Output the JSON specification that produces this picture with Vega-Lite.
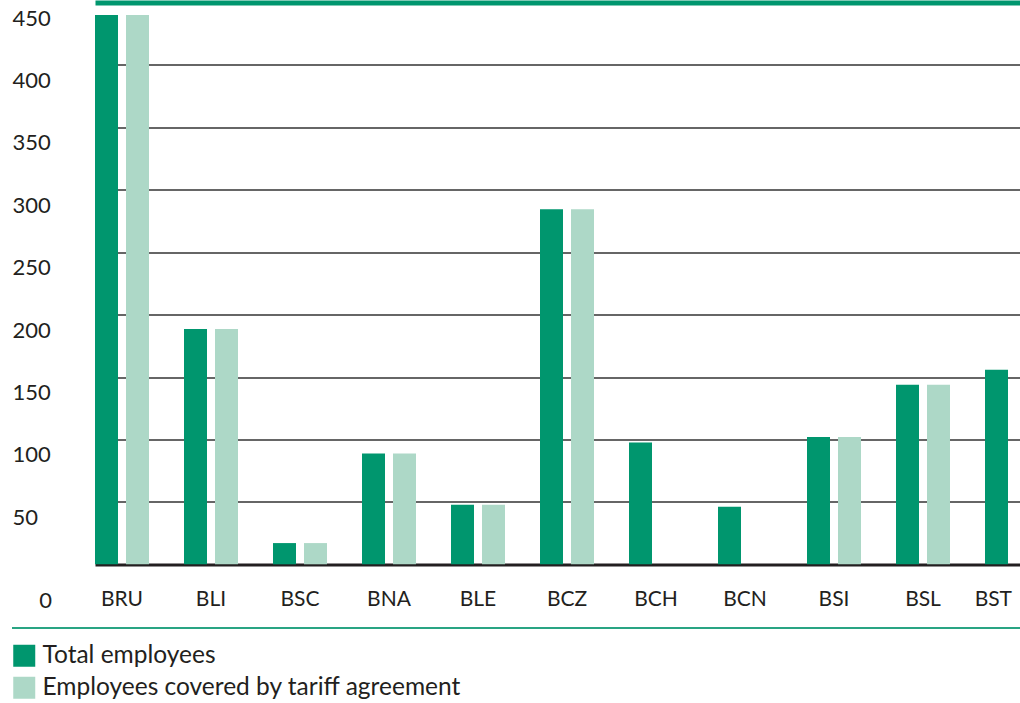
{
  "$schema": "https://vega.github.io/schema/vega-lite/v6.json",
  "width": 1008,
  "height": 561.8,
  "autosize": "none",
  "padding": {"left": 12, "top": 2.5, "right": 0, "bottom": 138.7},
  "background": "white",
  "config": {
    "view": {"stroke": null},
    "font": "Lato",
    "text": {"font": "Lato"}
  },
  "data": {
    "values": [
      {"unit": "BRU", "series": "Total employees", "value": 440},
      {"unit": "BRU", "series": "Employees covered by tariff agreement", "value": 440},
      {"unit": "BLI", "series": "Total employees", "value": 188.5},
      {"unit": "BLI", "series": "Employees covered by tariff agreement", "value": 188.5},
      {"unit": "BSC", "series": "Total employees", "value": 17},
      {"unit": "BSC", "series": "Employees covered by tariff agreement", "value": 17},
      {"unit": "BNA", "series": "Total employees", "value": 88.7},
      {"unit": "BNA", "series": "Employees covered by tariff agreement", "value": 88.7},
      {"unit": "BLE", "series": "Total employees", "value": 47.6},
      {"unit": "BLE", "series": "Employees covered by tariff agreement", "value": 47.6},
      {"unit": "BCZ", "series": "Total employees", "value": 284.4},
      {"unit": "BCZ", "series": "Employees covered by tariff agreement", "value": 284.4},
      {"unit": "BCH", "series": "Total employees", "value": 97.6},
      {"unit": "BCN", "series": "Total employees", "value": 46},
      {"unit": "BSI", "series": "Total employees", "value": 102},
      {"unit": "BSI", "series": "Employees covered by tariff agreement", "value": 102},
      {"unit": "BSL", "series": "Total employees", "value": 143.8},
      {"unit": "BSL", "series": "Employees covered by tariff agreement", "value": 143.8},
      {"unit": "BST", "series": "Total employees", "value": 155.9}
    ]
  },
  "layer": [
    {
      "mark": {"type": "bar"},
      "encoding": {
        "x": {
          "field": "unit",
          "type": "nominal",
          "sort": ["BRU", "BLI", "BSC", "BNA", "BLE", "BCZ", "BCH", "BCN", "BSI", "BSL", "BST"],
          "scale": {"range": [83, 1027], "paddingInner": 0.3933, "paddingOuter": 0},
          "axis": {
            "title": null,
            "domain": false,
            "ticks": false,
            "tickSize": 0,
            "grid": false,
            "labelPadding": 35.5,
            "labelBaseline": "middle",
            "labelAngle": 0,
            "labelAlign": {"condition": {"test": "datum.value == 'BST'", "value": "right"}, "value": "center"},
            "labelFont": "Lato",
            "labelFontSize": 21,
            "labelColor": "#231F20",
            "labelOverlap": false,
            "labelBound": false,
            "labelFlush": false
          }
        },
        "xOffset": {
          "field": "series",
          "type": "nominal",
          "sort": ["Total employees", "Employees covered by tariff agreement"],
          "scale": {"paddingInner": 0.258, "paddingOuter": 0}
        },
        "y": {
          "field": "value",
          "type": "quantitative",
          "scale": {"domain": [0, 450], "nice": false, "zero": true},
          "axis": {
            "title": null,
            "values": [0, 50, 100, 150, 200, 250, 300, 350, 400, 450],
            "domain": false,
            "ticks": false,
            "tickSize": 0,
            "grid": true,
            "gridColor": {"condition": [{"test": "datum.value == 450", "value": "#00966E"}, {"test": "datum.value == 0", "value": "#231F20"}], "value": "#333333"},
            "gridWidth": {"condition": [{"test": "datum.value == 450", "value": 5}, {"test": "datum.value == 0", "value": 3.2}], "value": 1.3},
            "labelAlign": {"condition": {"test": "datum.value == 0", "value": "center"}, "value": "left"},
            "labelPadding": {"condition": {"test": "datum.value == 0", "value": -33}, "value": 0},
            "labelOffset": {"condition": {"test": "datum.value == 0", "value": 36}, "value": 15.5},
            "labelBaseline": "middle",
            "labelFont": "Lato",
            "labelFontSize": 22,
            "labelColor": "#231F20",
            "labelOverlap": false,
            "labelBound": false,
            "labelFlush": false
          }
        },
        "color": {
          "field": "series",
          "type": "nominal",
          "scale": {
            "domain": ["Total employees", "Employees covered by tariff agreement"],
            "range": ["#00966E", "#ADD8C7"]
          },
          "legend": {
            "title": null,
            "orient": "none",
            "legendX": 0,
            "legendY": 641,
            "direction": "vertical",
            "symbolType": "square",
            "symbolSize": 484,
            "symbolStrokeWidth": 0,
            "symbolOpacity": 1,
            "labelFont": "Lato",
            "labelFontSize": 24.5,
            "labelColor": "#231F20",
            "rowPadding": 7,
            "labelOffset": 6,
            "padding": 0,
            "labelLimit": 600
          }
        }
      }
    },
    {
      "mark": {"type": "rule", "color": "#2AA583", "strokeWidth": 1.5},
      "encoding": {
        "y": {"datum": -51, "scale": {"domain": [0, 450], "nice": false}}
      }
    }
  ]
}
